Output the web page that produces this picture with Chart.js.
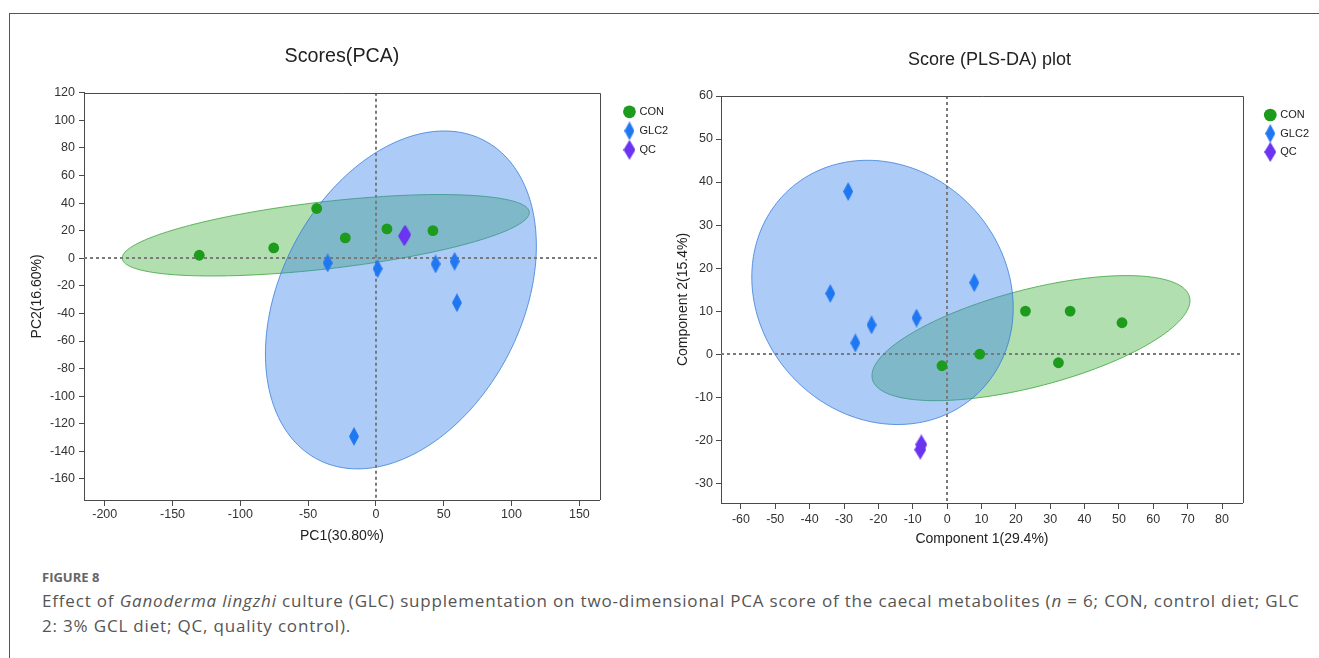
<!DOCTYPE html>
<html><head><meta charset="utf-8">
<script src="https://cdn.jsdelivr.net/npm/chart.js@4.4.1/dist/chart.umd.min.js"></script>
<style>
html,body{margin:0;padding:0;background:#fff;width:1319px;height:658px;overflow:hidden;position:relative;}
#frame{position:absolute;left:9px;top:13px;width:1400px;height:700px;border-top:1px solid #555;border-left:1px solid #555;}
#c1{position:absolute;left:0;top:0;}
#c2{position:absolute;left:660px;top:0;}
#cap{position:absolute;left:42px;top:568px;font-family:'Open Sans',sans-serif;color:#555;}
.fig{font-size:13px;font-weight:700;line-height:18px;color:#666;}
.txt{font-size:17px;line-height:25px;margin-top:2px;white-space:nowrap;letter-spacing:0.82px;}
</style></head><body>
<div id="frame"></div>
<canvas id="c1" width="680" height="560"></canvas>
<canvas id="c2" width="659" height="560"></canvas>
<div id="cap"><div class="fig">FIGURE 8</div><div class="txt">Effect of <i>Ganoderma lingzhi</i> culture (GLC) supplementation on two-dimensional PCA score of the caecal metabolites (<i>n</i> = 6; CON, control diet; GLC<br>2: 3% GCL diet; QC, quality control).</div></div>
<script>
// ---------- PCA scores ----------
const pcaConX = [-130.3, -75.4, -43.7, -22.6, 8.1, 42.0];
const pcaConY = [2.2, 7.5, 36.1, 14.8, 21.3, 20.1];
const pcaGlcX = [-35.6, 1.2, 44.0, 58.0, 59.7, -16.2];
const pcaGlcY = [-3.4, -7.5, -4.1, -2.2, -32.2, -129.2];
const pcaQcX = [20.8, 21.6];
const pcaQcY = [16.0, 17.2];
const pcaXTicks = [-200, -150, -100, -50, 0, 50, 100, 150];
const pcaYTicks = [-160, -140, -120, -100, -80, -60, -40, -20, 0, 20, 40, 60, 80, 100, 120];
const pcaXRange = [-215.3, 165.2];
const pcaYRange = [-175.3, 120];
// confidence ellipses: [centerX, centerY, axis1X, axis1Y, axis2X, axis2Y]
const pcaEllCon = [-37.0, 16.7, 150.1, 16.5, 0, -24.5];
const pcaEllGlc = [18.4, -30.2, 99.9, 39.2, 0, -116.1];

// ---------- PLS-DA scores ----------
const plsConX = [-1.5, 9.5, 22.8, 35.8, 50.9, 32.4];
const plsConY = [-2.7, 0.0, 10.0, 10.0, 7.3, -2.0];
const plsGlcX = [-28.8, -34.0, -22.0, -26.7, -8.9, 7.9];
const plsGlcY = [37.8, 14.1, 6.8, 2.6, 8.4, 16.6];
const plsQcX = [-7.8, -7.5];
const plsQcY = [-22.2, -21.0];
const plsXTicks = [-60, -50, -40, -30, -20, -10, 0, 10, 20, 30, 40, 50, 60, 70, 80];
const plsYTicks = [-30, -20, -10, 0, 10, 20, 30, 40, 50, 60];
const plsXRange = [-65.8, 86.1];
const plsYRange = [-34.6, 60];
const plsEllCon = [24.4, 3.72, 46.27, 8.72, 0, -11.63];
const plsEllGlc = [-18.8, 14.35, 38.04, -3.56, 0, -30.5];

const F = "'Liberation Sans', Arial, sans-serif";
const AX = '#4a4a4a';
const GREEN = 'rgb(28,155,28)';
const BLUE = 'rgb(31,120,242)';
const PURPLE = 'rgb(106,52,240)';
const ELL_GREEN = {fill: 'rgba(60,175,58,0.40)', stroke: 'rgba(50,160,50,0.75)'};
const ELL_BLUE = {fill: 'rgba(57,128,235,0.41)', stroke: 'rgba(50,120,215,0.75)'};

function diamond(w, h, color) {
  const c = document.createElement('canvas');
  c.width = w; c.height = h;
  const g = c.getContext('2d');
  g.fillStyle = color;
  g.beginPath();
  g.moveTo(w / 2, 0); g.lineTo(w, h / 2); g.lineTo(w / 2, h); g.lineTo(0, h / 2);
  g.closePath(); g.fill();
  return c;
}
const diaBlue = diamond(10, 19, BLUE);
const diaPurple = diamond(12, 20, PURPLE);

const pts = (xs, ys) => xs.map((v, i) => ({x: v, y: ys[i]}));

const overlayPlugin = {
  id: 'overlay',
  beforeDatasetsDraw(chart, args, opts) {
    const {ctx, chartArea: a, scales: {x, y}} = chart;
    ctx.save();
    ctx.beginPath(); ctx.rect(a.left, a.top, a.width, a.height); ctx.clip();
    (opts.ellipses || []).forEach(it => {
      const [cx, cy, ux, uy, vx, vy] = it.p;
      ctx.beginPath();
      for (let k = 0; k <= 240; k++) {
        const t = k / 240 * 2 * Math.PI;
        const px = x.getPixelForValue(cx + ux * Math.cos(t) + vx * Math.sin(t));
        const py = y.getPixelForValue(cy + uy * Math.cos(t) + vy * Math.sin(t));
        if (k === 0) ctx.moveTo(px, py); else ctx.lineTo(px, py);
      }
      ctx.closePath();
      ctx.fillStyle = it.style.fill; ctx.fill();
      ctx.lineWidth = 1; ctx.strokeStyle = it.style.stroke; ctx.stroke();
    });
    const x0 = Math.round(x.getPixelForValue(0)), y0 = Math.round(y.getPixelForValue(0));
    ctx.setLineDash([3, 3]); ctx.lineWidth = 2; ctx.strokeStyle = '#7a7a7a';
    ctx.beginPath();
    ctx.moveTo(x0, a.top); ctx.lineTo(x0, a.bottom);
    ctx.moveTo(a.left, y0); ctx.lineTo(a.right, y0);
    ctx.stroke();
    ctx.restore();
  },
  afterDraw(chart) {
    const {ctx, chartArea: a} = chart;
    ctx.save();
    ctx.strokeStyle = AX; ctx.lineWidth = 1;
    ctx.beginPath();
    ctx.moveTo(Math.round(a.left), Math.round(a.top) + 0.5);
    ctx.lineTo(Math.round(a.right) + 0.5, Math.round(a.top) + 0.5);
    ctx.lineTo(Math.round(a.right) + 0.5, Math.round(a.bottom));
    ctx.stroke();
    ctx.restore();
  }
};

function build(canvasId, s) {
  return new Chart(document.getElementById(canvasId), {
    type: 'scatter',
    data: {datasets: [
      {label: 'CON', data: pts(s.conX, s.conY), pointStyle: 'circle', pointRadius: 5.4, backgroundColor: GREEN, borderColor: GREEN, borderWidth: 0},
      {label: 'GLC2', data: pts(s.glcX, s.glcY), pointStyle: diaBlue, backgroundColor: BLUE, borderColor: BLUE, borderWidth: 0},
      {label: 'QC', data: pts(s.qcX, s.qcY), pointStyle: diaPurple, backgroundColor: PURPLE, borderColor: PURPLE, borderWidth: 0}
    ]},
    options: {
      responsive: false, animation: false, events: [],
      layout: {padding: s.pad},
      plugins: {
        tooltip: {enabled: false},
        title: {display: true, text: s.title, fullSize: s.titleFull, color: '#222', font: {family: F, size: s.titleSize, weight: 'normal'}, padding: s.titlePad},
        legend: {position: 'right', align: 'start', fullSize: false,
          title: {display: true, text: '', font: {size: 1}, padding: {top: s.legTop, bottom: 0}},
          labels: {usePointStyle: true, boxWidth: 9, boxHeight: 9, padding: s.legPad, color: '#222', font: {family: F, size: 11}}},
        overlay: {ellipses: [{p: s.ellCon, style: ELL_GREEN}, {p: s.ellGlc, style: ELL_BLUE}]}
      },
      scales: {
        x: {type: 'linear', position: 'bottom', min: s.xr[0], max: s.xr[1],
          afterBuildTicks: ax => { ax.ticks = s.xt.map(v => ({value: v})); },
          afterFit: ax => { ax.height = s.xH; },
          grid: {display: true, drawOnChartArea: false, drawTicks: true, tickLength: 6, tickColor: AX, color: AX},
          border: {display: true, color: AX, width: 1},
          ticks: {color: '#333', font: {family: F, size: 12.5}, padding: s.xTickPad, maxRotation: 0, autoSkip: false},
          title: {display: true, text: s.xTitle, color: '#222', font: {family: F, size: 14}, padding: {top: 4, bottom: 4}}},
        y: {type: 'linear', position: 'left', min: s.yr[0], max: s.yr[1],
          afterBuildTicks: ax => { ax.ticks = s.yt.map(v => ({value: v})); },
          afterFit: ax => { ax.width = s.yW; },
          grid: {display: true, drawOnChartArea: false, drawTicks: true, tickLength: 5, tickColor: AX, color: AX},
          border: {display: true, color: AX, width: 1},
          ticks: {color: '#333', font: {family: F, size: 12.5}, padding: s.yTickPad, autoSkip: false},
          title: {display: true, text: s.yTitle, color: '#222', font: {family: F, size: 14}, padding: {top: s.yTitlePad, bottom: 4}}},
        yR: {type: 'linear', position: 'right', display: true, min: 0, max: 1,
          grid: {display: false}, border: {display: false}, ticks: {display: false},
          afterFit: ax => { ax.width = s.gap; }}
      }
    },
    plugins: [overlayPlugin]
  });
}

build('c1', {
  conX: pcaConX, conY: pcaConY, glcX: pcaGlcX, glcY: pcaGlcY, qcX: pcaQcX, qcY: pcaQcY,
  xt: pcaXTicks, yt: pcaYTicks, xr: pcaXRange, yr: pcaYRange,
  ellCon: pcaEllCon, ellGlc: pcaEllGlc,
  title: 'Scores(PCA)', titleFull: false, titleSize: 19.7, titlePad: {top: 45.2, bottom: 24.0},
  xTitle: 'PC1(30.80%)', yTitle: 'PC2(16.60%)',
  pad: {left: 0, right: 1.8, top: 0, bottom: 11.6},
  xH: 48.4, yW: 84, yTitlePad: 29, xTickPad: 1, yTickPad: 4,
  gap: 17, legPad: 8, legTop: 4.3
});

build('c2', {
  conX: plsConX, conY: plsConY, glcX: plsGlcX, glcY: plsGlcY, qcX: plsQcX, qcY: plsQcY,
  xt: plsXTicks, yt: plsYTicks, xr: plsXRange, yr: plsYRange,
  ellCon: plsEllCon, ellGlc: plsEllGlc,
  title: 'Score (PLS-DA) plot', titleFull: true, titleSize: 18, titlePad: {top: 49.2, bottom: 25.2},
  xTitle: 'Component 1(29.4%)', yTitle: 'Component 2(15.4%)',
  pad: {left: 0, right: 0, top: 0, bottom: 8.6},
  xH: 48.4, yW: 61, yTitlePad: 14.6, xTickPad: 3, yTickPad: 3,
  gap: 15.3, legPad: 7.5, legTop: 4.8
});
</script>
</body></html>
